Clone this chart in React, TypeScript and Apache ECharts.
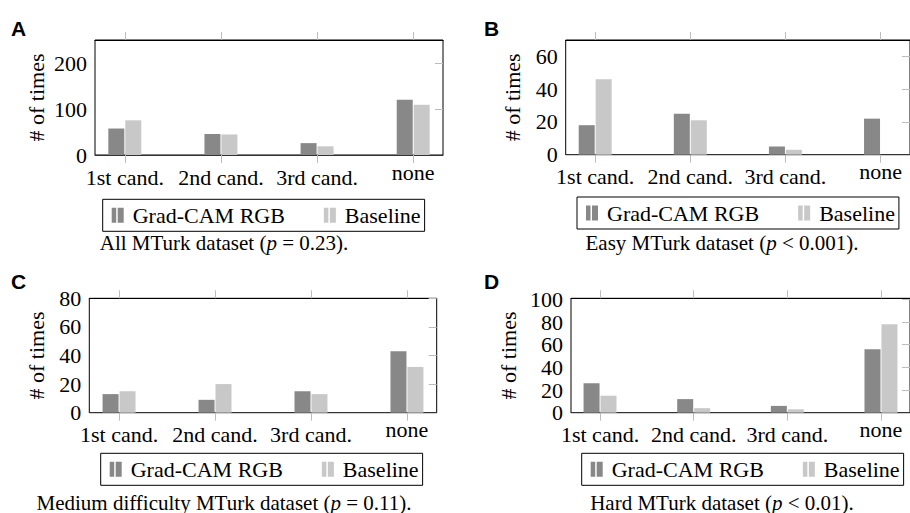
import React, { useEffect, useRef } from 'react';
import * as echarts from 'echarts';

const categories = ['1st cand.', '2nd cand.', '3rd cand.', 'none'];
const seriesNames = ['Grad-CAM RGB', 'Baseline'];

const gradA = [58, 46, 26, 121];
const baseA = [76, 45, 19, 110];
const gradB = [18, 25, 5, 22];
const baseB = [46, 21, 3, 0];
const gradC = [13, 9, 15, 43];
const baseC = [15, 20, 13, 32];
const gradD = [26, 12, 6, 56];
const baseD = [15, 4, 3, 78];

const yTicksA = [0, 100, 200];
const yTicksB = [0, 20, 40, 60];
const yTicksC = [0, 20, 40, 60, 80];
const yTicksD = [0, 20, 40, 60, 80, 100];
const yMaxA = 252;
const yMaxB = 70;
const yMaxC = 80;
const yMaxD = 101;

const letters = ['A', 'B', 'C', 'D'];
const captionNames = ['All MTurk dataset', 'Easy MTurk dataset', 'Medium difficulty MTurk dataset', 'Hard MTurk dataset'];
const captionStats = [' = 0.23).', ' < 0.001).', ' = 0.11).', ' < 0.01).'];
const yName = '# of times';

const SERIF = 'Liberation Serif';
const SANS = "'Liberation Sans', Arial, sans-serif";
const FS = 22;
const CAP_FS = 21;
const DARK = '#888888';
const LIGHT = '#c8c8c8';
const TICK = '#bdbdbd';

const panels = [
  { grad: gradA, base: baseA, ticks: yTicksA, max: yMaxA, grid: { left: 95, top: 40, width: 348, height: 115 }, letter: [11, 18], legend: { left: 102.7, top: 199.3 }, caption: [224, 243], nameGap: 48 },
  { grad: gradB, base: baseB, ticks: yTicksB, max: yMaxB, grid: { left: 565.7, top: 40, width: 348, height: 114.7 }, letter: [484, 18], legend: { left: 577, top: 197 }, caption: [722, 243], nameGap: 42 },
  { grad: gradC, base: baseC, ticks: yTicksC, max: yMaxC, grid: { left: 89.3, top: 298.3, width: 347.4, height: 114.4 }, letter: [11, 271], legend: { left: 100.7, top: 453.3 }, caption: [224, 503], nameGap: 42 },
  { grad: gradD, base: baseD, ticks: yTicksD, max: yMaxD, grid: { left: 571, top: 298.3, width: 348, height: 114.4 }, letter: [484, 271], legend: { left: 581.7, top: 453.3 }, caption: [722, 503], nameGap: 52 },
];

const XMIN = -0.31;
const XMAX = 3.31;
const xTickValues = categories.map((_, i) => i);

function buildOption() {
  const grid: any[] = [];
  const xAxis: any[] = [];
  const yAxis: any[] = [];
  const series: any[] = [];
  const legend: any[] = [];
  const graphic: any[] = [];

  panels.forEach((p, i) => {
    grid.push({ ...p.grid, show: true, borderColor: '#000', borderWidth: 1, backgroundColor: 'transparent', containLabel: false });
    xAxis.push({
      type: 'value', gridIndex: i, position: 'bottom', min: XMIN, max: XMAX,
      axisLine: { show: true, onZero: false, lineStyle: { color: '#333', width: 1 } },
      axisTick: { show: true, customValues: xTickValues, length: 8, inside: false, lineStyle: { color: TICK } },
      axisLabel: {
        show: true, customValues: xTickValues, margin: 11, color: '#000', fontFamily: SERIF, fontSize: FS,
        formatter: (v: number) => (v === 3 ? '{n|' + categories[3] + '}' : categories[Math.round(v)]),
        rich: { n: { fontFamily: SERIF, fontSize: FS, color: '#000', lineHeight: FS - 10 } },
      },
      splitLine: { show: false },
    });
    xAxis.push({
      type: 'value', gridIndex: i, position: 'top', min: XMIN, max: XMAX, show: true,
      axisLine: { show: true, onZero: false, lineStyle: { color: '#000' } },
      axisTick: { show: true, customValues: xTickValues, length: 8, inside: false, lineStyle: { color: TICK } },
      axisLabel: { show: false, customValues: xTickValues },
      splitLine: { show: false },
    });
    yAxis.push({
      type: 'value', gridIndex: i, position: 'left', min: 0, max: p.max,
      name: yName, nameLocation: 'middle', nameRotate: 90, nameGap: p.nameGap,
      nameTextStyle: { fontFamily: SERIF, fontSize: FS, color: '#000' },
      axisLine: { show: false, onZero: false },
      axisTick: { show: false },
      axisLabel: { show: true, customValues: p.ticks, margin: 8, color: '#000', fontFamily: SERIF, fontSize: FS },
      splitLine: { show: false },
    });
    yAxis.push({
      type: 'value', gridIndex: i, position: 'right', min: 0, max: p.max,
      axisLine: { show: false, onZero: false },
      axisTick: { show: true, customValues: p.ticks.filter((t) => t > 0), inside: true, length: 8, lineStyle: { color: TICK } },
      axisLabel: { show: false },
      splitLine: { show: false },
    });
    series.push({
      type: 'bar', name: seriesNames[0], xAxisIndex: 2 * i, yAxisIndex: 2 * i,
      data: p.grad.map((v, k) => [k, v]), barWidth: 16, barGap: '6%',
      itemStyle: { color: DARK }, silent: true,
    });
    series.push({
      type: 'bar', name: seriesNames[1], xAxisIndex: 2 * i, yAxisIndex: 2 * i,
      data: p.base.map((v, k) => [k, v]), barWidth: 16, barGap: '6%',
      itemStyle: { color: LIGHT }, silent: true,
    });
    legend.push({
      data: seriesNames.map((n) => ({ name: n, textStyle: { fontFamily: SERIF, fontSize: FS, color: '#000' } })),
      left: p.legend.left, top: p.legend.top, orient: 'horizontal',
      icon: 'path://M0,0h4.5v15h-4.5zM6,0h6v15h-6zM16,0h0v15h0z', itemWidth: 16, itemHeight: 15, itemGap: 39,
      padding: [5, 4, 5, 9], borderColor: '#000', borderWidth: 1, borderRadius: 0,
      selectedMode: false,
      textStyle: { fontFamily: SERIF, fontSize: FS, color: '#000' },
    });
    graphic.push({
      type: 'text', x: p.letter[0], y: p.letter[1],
      style: { text: letters[i], font: `bold 21px ${SANS}`, fill: '#000', align: 'left', verticalAlign: 'top' },
    });
    graphic.push({
      type: 'text', x: p.caption[0], y: p.caption[1],
      style: {
        text: '{r|' + captionNames[i] + ' (}{i|p}{r|' + captionStats[i] + '}',
        align: 'center', verticalAlign: 'middle',
        rich: {
          r: { fontFamily: SERIF, fontSize: CAP_FS, fill: '#000' },
          i: { fontFamily: SERIF, fontSize: CAP_FS, fontStyle: 'italic', fill: '#000' },
        },
      },
    });
  });

  return {
    animation: false, backgroundColor: '#fff',
    textStyle: { fontFamily: SERIF },
    grid, xAxis, yAxis, series, legend, graphic,
  };
}

export default function App() {
  const ref = useRef<HTMLDivElement>(null);
  useEffect(() => {
    if (!ref.current) return;
    const chart = echarts.init(ref.current, undefined, { renderer: 'svg' });
    chart.setOption(buildOption() as any);
    return () => chart.dispose();
  }, []);
  return <div ref={ref} style={{ position: 'fixed', left: 0, top: 0, width: 910, height: 513, background: '#fff' }} />;
}
